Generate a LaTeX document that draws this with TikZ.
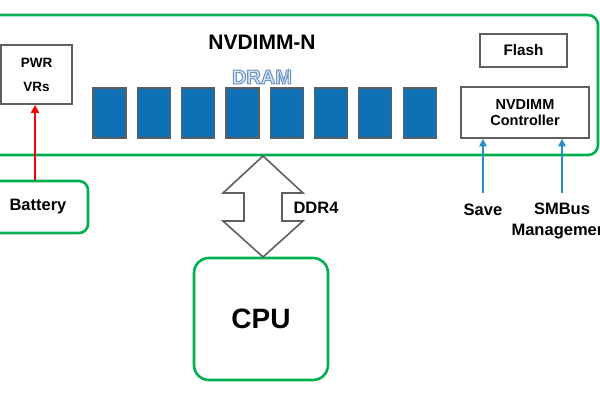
\documentclass[tikz,border=0pt]{standalone}
\usepackage{fontspec}
\setmainfont{Liberation Sans}
\usetikzlibrary{arrows.meta}
\definecolor{ggreen}{RGB}{0,176,80}
\definecolor{ggray}{RGB}{95,95,95}
\definecolor{cblue}{RGB}{16,112,182}
\definecolor{ablue}{RGB}{40,140,200}
\definecolor{dramfill}{RGB}{225,235,248}
\definecolor{dramline}{RGB}{110,150,195}
\begin{document}
\begin{tikzpicture}[x=1pt,y=-1pt,
  grn/.style={draw=ggreen, line width=2.6pt, fill=white, inner sep=0pt},
  gbox/.style={draw=ggray, line width=1.8pt, fill=white, inner sep=0pt, align=center},
  chip/.style={draw=ggray, line width=1.2pt, fill=cblue, minimum width=33pt, minimum height=50pt, inner sep=0pt},
  lbl/.style={font=\bfseries\fontsize{16.5}{21}\selectfont, text=black, inner sep=0pt, align=center},
  redarr/.style={draw=red, line width=2pt, -{Triangle[width=8pt,length=8pt]}},
  bluarr/.style={draw=ablue, line width=1.4pt, -{Triangle[width=7.5pt,length=7.5pt]}},
  ddrstyle/.style={draw=ggray, line width=1.6pt, fill=white, line join=miter}
  ]
\useasboundingbox (0,0) rectangle (600,400);
\clip (0,0) rectangle (600,400);

% main module
\node[grn, rounded corners=10pt, minimum width=613pt, minimum height=140pt] (main) at (291.5,85) {};
\node[font=\bfseries\fontsize{21}{24}\selectfont, inner sep=0pt] (title) at (262,42) {NVDIMM-N};

% DRAM label (outlined text)
\node[font=\bfseries\fontsize{20}{22}\selectfont, inner sep=0pt, text=dramfill] (dram) at (262,77)
  {\special{pdf:literal direct 2 Tr 1.1 w 0.43 0.59 0.76 RG}DRAM\special{pdf:literal direct 0 Tr}};

% chips
\foreach \i in {0,...,7}
  \node[chip] (c\i) at (109.5+44.3*\i,113) {};

% PWR VRs
\node[gbox, minimum width=71pt, minimum height=59pt, font=\bfseries\fontsize{13.5}{24}\selectfont] (pwr) at (36.5,74.5) {PWR\\VRs};

% Flash and controller
\node[gbox, minimum width=87pt, minimum height=33pt, font=\bfseries\fontsize{15.3}{18}\selectfont] (flash) at (523.5,50.5) {Flash};
\node[gbox, minimum width=128pt, minimum height=51pt, font=\bfseries\fontsize{14.5}{16}\selectfont] (ctrl) at (525,112.5) {NVDIMM\\Controller};

% Battery
\node[grn, rounded corners=9pt, minimum width=103pt, minimum height=52pt, font=\bfseries\fontsize{16.5}{19}\selectfont] (bat) at (36.5,207) {\hspace*{3pt}Battery};
\draw[redarr] (bat.north -| 35,0) -- (pwr.south -| 35,0);

% CPU
\node[grn, rounded corners=15pt, minimum width=134pt, minimum height=122pt, font=\bfseries\fontsize{28}{30}\selectfont] (cpu) at (261,319) {CPU};

% DDR4 double arrow
\coordinate (dtop) at (263,156);
\coordinate (dbot) at (263,257);
\draw[ddrstyle] (dtop) -- ++(40,37) -- ++(-21,0) -- ++(0,28) -- ++(21,0) -- (dbot)
  -- ++(-40,-36) -- ++(21,0) -- ++(0,-28) -- ++(-21,0) -- cycle;
\node[lbl] (ddr) at (316,208) {DDR4};

% Save and SMBus
\node[lbl] (save) at (483,210) {Save};
\node[lbl] (smb) at (562,220.5) {SMBus\\Management};
\coordinate (sv) at (483,193);
\coordinate (sm) at (562,193);
\draw[bluarr] (sv) -- (sv |- ctrl.south);
\draw[bluarr] (sm) -- (sm |- ctrl.south);
\end{tikzpicture}
\end{document}
